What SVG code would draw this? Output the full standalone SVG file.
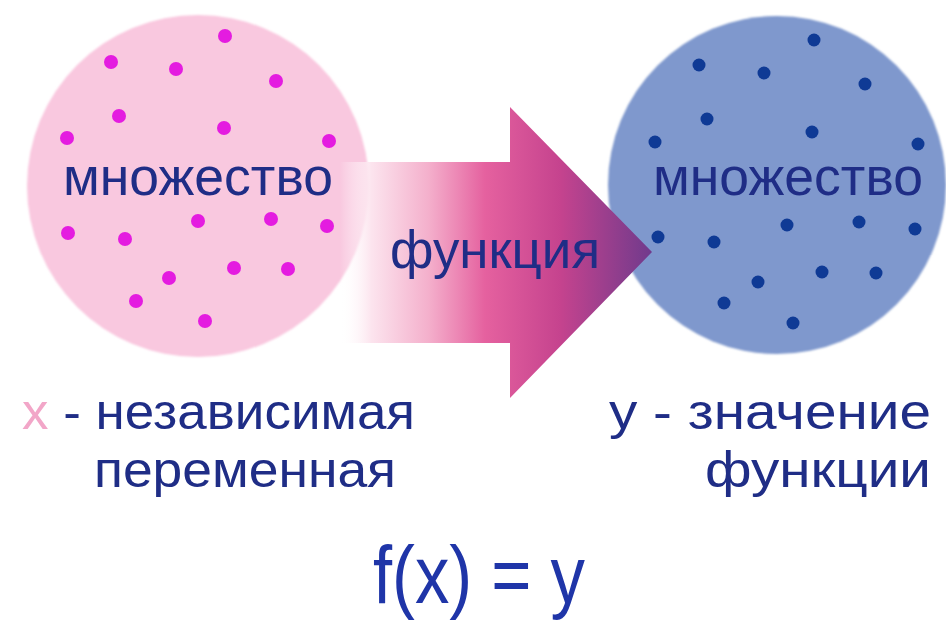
<svg xmlns="http://www.w3.org/2000/svg" width="946" height="621" viewBox="0 0 946 621">
  <style>
    .t { font-family: "Liberation Sans", Arial, sans-serif; fill: #1f2d86; }
    .pd { fill: #e41ce0; }
    .bd { fill: #0f3a95; }
  </style>
  <defs>
    <linearGradient id="arrowGrad" gradientUnits="userSpaceOnUse" x1="340" y1="0" x2="655" y2="0">
      <stop offset="0" stop-color="#ffffff" stop-opacity="0"/>
      <stop offset="0.1" stop-color="#fce4ee"/>
      <stop offset="0.28" stop-color="#f4b0cc"/>
      <stop offset="0.46" stop-color="#e5619f"/>
      <stop offset="0.7" stop-color="#c5438e"/>
      <stop offset="1" stop-color="#6d3a8c"/>
    </linearGradient>
    <filter id="soft" x="-5%" y="-5%" width="110%" height="110%">
      <feGaussianBlur stdDeviation="1.2"/>
    </filter>
  </defs>
  <rect width="946" height="621" fill="#ffffff"/>

  <g id="set-x">
    <circle cx="198" cy="186" r="171" fill="#f9c8df" filter="url(#soft)"/>
    <g>
      <circle class="pd" cx="225" cy="36" r="7"/>
      <circle class="pd" cx="111" cy="62" r="7"/>
      <circle class="pd" cx="176" cy="69" r="7"/>
      <circle class="pd" cx="276" cy="81" r="7"/>
      <circle class="pd" cx="119" cy="116" r="7"/>
      <circle class="pd" cx="224" cy="128" r="7"/>
      <circle class="pd" cx="67" cy="138" r="7"/>
      <circle class="pd" cx="329" cy="141" r="7"/>
      <circle class="pd" cx="198" cy="221" r="7"/>
      <circle class="pd" cx="271" cy="219" r="7"/>
      <circle class="pd" cx="327" cy="226" r="7"/>
      <circle class="pd" cx="68" cy="233" r="7"/>
      <circle class="pd" cx="125" cy="239" r="7"/>
      <circle class="pd" cx="169" cy="278" r="7"/>
      <circle class="pd" cx="234" cy="268" r="7"/>
      <circle class="pd" cx="288" cy="269" r="7"/>
      <circle class="pd" cx="136" cy="301" r="7"/>
      <circle class="pd" cx="205" cy="321" r="7"/>
    </g>
    <text class="t" x="198" y="195" font-size="54" text-anchor="middle" textLength="270" lengthAdjust="spacingAndGlyphs">множество</text>
  </g>

  <g id="set-y">
    <circle cx="777" cy="185" r="169" fill="#7f98cd" filter="url(#soft)"/>
    <g>
      <circle class="bd" cx="814" cy="40" r="6.5"/>
      <circle class="bd" cx="699" cy="65" r="6.5"/>
      <circle class="bd" cx="764" cy="73" r="6.5"/>
      <circle class="bd" cx="865" cy="84" r="6.5"/>
      <circle class="bd" cx="707" cy="119" r="6.5"/>
      <circle class="bd" cx="812" cy="132" r="6.5"/>
      <circle class="bd" cx="655" cy="142" r="6.5"/>
      <circle class="bd" cx="918" cy="144" r="6.5"/>
      <circle class="bd" cx="787" cy="225" r="6.5"/>
      <circle class="bd" cx="859" cy="222" r="6.5"/>
      <circle class="bd" cx="915" cy="229" r="6.5"/>
      <circle class="bd" cx="658" cy="237" r="6.5"/>
      <circle class="bd" cx="714" cy="242" r="6.5"/>
      <circle class="bd" cx="758" cy="282" r="6.5"/>
      <circle class="bd" cx="822" cy="272" r="6.5"/>
      <circle class="bd" cx="876" cy="273" r="6.5"/>
      <circle class="bd" cx="724" cy="303" r="6.5"/>
      <circle class="bd" cx="793" cy="323" r="6.5"/>
    </g>
    <text class="t" x="788" y="195" font-size="54" text-anchor="middle" textLength="270" lengthAdjust="spacingAndGlyphs">множество</text>
  </g>

  <g id="connectors">
    <path d="M340 162 L510 162 L510 107 L652 252 L510 398 L510 343 L340 343 Z" fill="url(#arrowGrad)"/>
    <text class="t" x="495" y="268" font-size="54" text-anchor="middle" textLength="210" lengthAdjust="spacingAndGlyphs">функция</text>
  </g>

  <g id="label-x">
    <text class="t" x="22" y="429" font-size="50" textLength="393" lengthAdjust="spacingAndGlyphs"><tspan fill="#f2a6c8">x</tspan> - независимая</text>
    <text class="t" x="94" y="487" font-size="50" textLength="302" lengthAdjust="spacingAndGlyphs">переменная</text>
  </g>

  <g id="label-y">
    <text class="t" x="609" y="429" font-size="50" textLength="322" lengthAdjust="spacingAndGlyphs">y - значение</text>
    <text class="t" x="705" y="487" font-size="50" textLength="226" lengthAdjust="spacingAndGlyphs">функции</text>
  </g>

  <g id="formula">
    <text x="373" y="603" font-size="82" font-family="Liberation Sans, Arial, sans-serif" fill="#1f35a8" textLength="212" lengthAdjust="spacingAndGlyphs">f(x) = y</text>
  </g>
</svg>
